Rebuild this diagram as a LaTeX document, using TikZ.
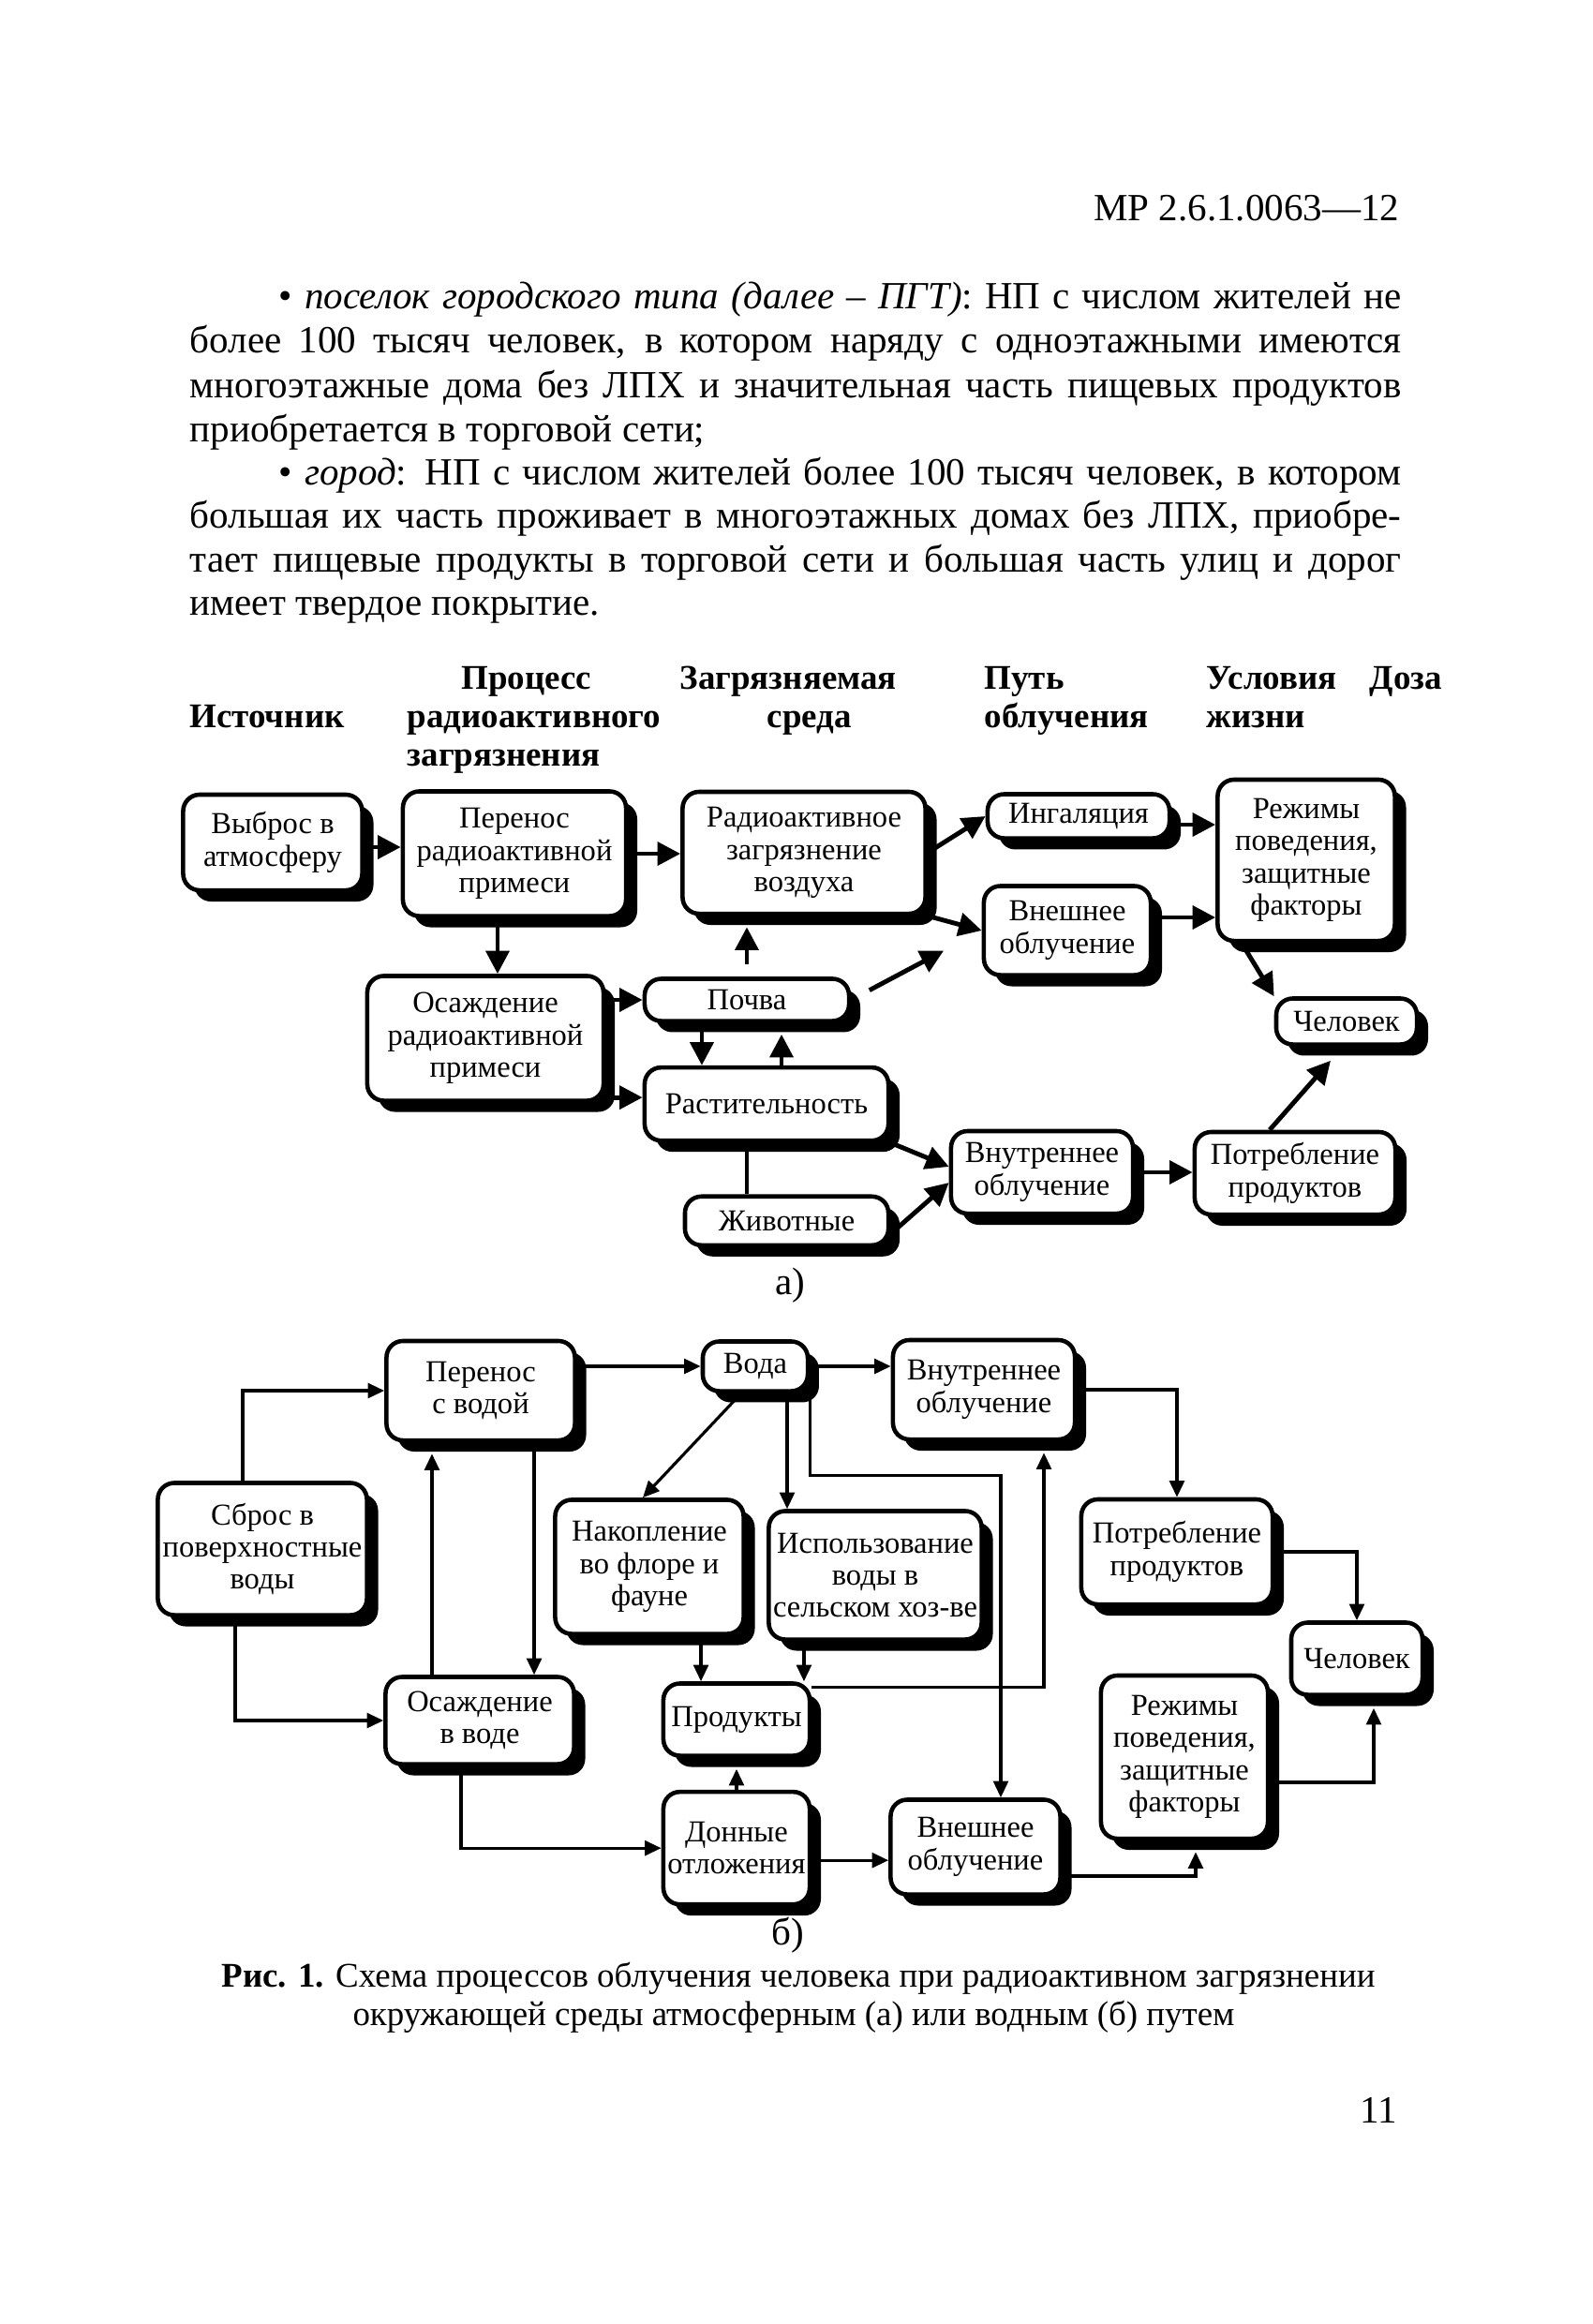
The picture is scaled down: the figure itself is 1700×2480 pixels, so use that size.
\documentclass[tikz,border=0pt]{standalone}
\usepackage{fontspec}
\setmainfont{Liberation Serif}
\usetikzlibrary{arrows.meta,positioning,shadows}

\begin{document}
\begin{tikzpicture}[x=0.01cm, y=-0.01cm,
box/.style={draw, line width=1.3pt, rounded corners=5pt, align=center, fill=white, inner sep=0pt,
  font=\fontsize{9.25}{9.8}\selectfont,
  drop shadow={shadow xshift=3.4pt, shadow yshift=-3.4pt, opacity=1, fill=black}},
arra/.style={-{Triangle[length=7pt,width=7pt]}, line width=1.4pt},
arrb/.style={-{Triangle[length=5pt,width=4.5pt]}, line width=0.9pt},
para/.style={anchor=base west, inner sep=0pt, font=\fontsize{11.67}{13.3}\selectfont},
head/.style={anchor=base west, inner sep=0pt, font=\fontsize{10.5}{11.7}\selectfont\bfseries}
]
\path[fill=white] (0,0) rectangle (1700,2480);
\useasboundingbox (0,0) rectangle (1700,2480);

% page text
\node[para, anchor=base east] (code) at (1494,235) {МР 2.6.1.0063—12};
\node[para] (l1) at (297,329) {\makebox[11.97cm][s]{• \textit{поселок городского типа (далее – ПГТ)}: НП с числом жителей не}};
\node[para] (l2) at (202,376) {\makebox[12.92cm][s]{более 100 тысяч человек, в котором наряду с одноэтажными имеются}};
\node[para] (l3) at (202,424) {\makebox[12.92cm][s]{многоэтажные дома без ЛПХ и значительная часть пищевых продуктов}};
\node[para] (l4) at (202,471) {приобретается в торговой сети;};
\node[para] (l5) at (297,517) {\makebox[11.97cm][s]{• \textit{город}: НП с числом жителей более 100 тысяч человек, в котором}};
\node[para] (l6) at (202,563) {\makebox[12.92cm][s]{большая их часть проживает в многоэтажных домах без ЛПХ, приобре-}};
\node[para] (l7) at (202,610) {\makebox[12.92cm][s]{тает пищевые продукты в торговой сети и большая часть улиц и дорог}};
\node[para] (l8) at (202,656) {имеет твердое покрытие.};

% column heads
\node[head] (h1) at (492,735) {Процесс};
\node[head] (h2) at (725,735) {Загрязняемая};
\node[head] (h3) at (1050,735) {Путь};
\node[head] (h4) at (1287,735) {Условия};
\node[head] (h5) at (1461,735) {Доза};
\node[head] (h6) at (202,776) {Источник};
\node[head] (h7) at (434,776) {радиоактивного};
\node[head] (h8) at (818,776) {среда};
\node[head] (h9) at (1050,776) {облучения};
\node[head] (h10) at (1287,776) {жизни};
\node[head] (h11) at (434,817) {загрязнения};

% scheme (a)
\node[box, minimum width=1.91cm, minimum height=1.02cm] (vybros) at (291,899) {Выброс в\\атмосферу};
\node[box, minimum width=2.38cm, minimum height=1.33cm] (perenos) at (549,911) {Перенос\\радиоактивной\\примеси};
\node[box, minimum width=2.59cm, minimum height=1.30cm] (vozduh) at (858,910) {Радиоактивное\\загрязнение\\воздуха};
\node[box, minimum width=1.94cm, minimum height=0.47cm] (ingal) at (1151,871) {Ингаляция};
\node[box, minimum width=1.89cm, minimum height=1.72cm] (rezhimA) at (1394,918) {Режимы\\поведения,\\защитные\\факторы};
\node[box, minimum width=1.78cm, minimum height=0.95cm] (vneshA) at (1139,993) {Внешнее\\облучение};
\node[box, minimum width=2.52cm, minimum height=1.33cm] (osazhA) at (518,1108) {Осаждение\\радиоактивной\\примеси};
\node[box, minimum width=2.18cm, minimum height=0.45cm] (pochva) at (797,1067) {Почва};
\node[box, minimum width=2.60cm, minimum height=0.78cm, below=0.45cm of pochva.south west, anchor=north west] (rast) {Растительность};
\node[box, minimum width=2.17cm, minimum height=0.52cm, below=0.55cm of rast.south east, anchor=north east] (zhiv) {Животные};
\node[box, minimum width=1.94cm, minimum height=0.88cm] (vnutrA) at (1112,1251) {Внутреннее\\облучение};
\node[box, minimum width=2.14cm, minimum height=0.88cm] (potrA) at (1382,1252) {Потребление\\продуктов};
\node[box, minimum width=1.50cm, minimum height=0.49cm] (chelA) at (1437,1090) {Человек};

\draw[arra] ([yshift=-0.05cm]vybros.east) coordinate (p0) -- (p0 -| perenos.west);
\draw[arra] (perenos.east) -- (perenos.east -| vozduh.west);
\draw[arra] ([xshift=-0.18cm]perenos.south) coordinate (p1) -- (p1 |- osazhA.north);
\draw[arra] (vozduh.east) -- (ingal.west);
\draw[arra] (vozduh.south east) -- (vneshA.west);
\draw[arra, shorten <=0.22cm, shorten >=0.46cm] (pochva.east) -- (vneshA.west);
\draw[arra, shorten <=0.13cm, shorten >=0.12cm] (pochva.north) -- (pochva.north |- vozduh.south);
\draw[arra] ([xshift=-0.48cm]pochva.south) coordinate (p2) -- (p2 |- rast.north);
\path ([xshift=0.37cm]pochva.south) coordinate (p3);
\draw[arra, shorten >=0.12cm] (p3 |- rast.north) -- (p3);
\draw[arra] (osazhA.east |- pochva.west) -- (pochva.west);
\draw[arra] ([yshift=0.07cm]osazhA.east |- rast.west) coordinate (p7) -- (p7 -| rast.west);
\draw[line width=1.4pt] ([xshift=-0.21cm]rast.south) coordinate (p4) -- (p4 |- zhiv.north);
\draw[arra] (rast.south east) -- ([yshift=0.06cm]vnutrA.west);
\draw[arra] ([yshift=-0.14cm]zhiv.east) -- ([yshift=-0.11cm]vnutrA.west);
\draw[arra] ([yshift=-0.09cm]ingal.east) coordinate (p5) -- (p5 -| rezhimA.west);
\draw[arra] ([yshift=0.14cm]vneshA.east) coordinate (p6) -- (p6 -| rezhimA.west);
\draw[arra, shorten <=0.1cm] (rezhimA.232) -- (chelA.north west);
\draw[arra] ([xshift=-0.27cm]potrA.north) -- ([xshift=-0.17cm, yshift=-0.15cm]chelA.south);
\draw[arra] (vnutrA.east) -- (vnutrA.east -| potrA.west);

\node[para, anchor=base] (la) at (843,1381) {а)};

% scheme (b)
\node[box, minimum width=2.01cm, minimum height=1.06cm] (perenosB) at (513,1484) {Перенос\\с водой};
\node[box, minimum width=2.23cm, minimum height=1.41cm] (sbros) at (280,1653) {Сброс в\\поверхностные\\воды};
\node[box, minimum width=2.01cm, minimum height=0.93cm] (osazhB) at (512,1836) {Осаждение\\в воде};
\node[box, minimum width=1.12cm, minimum height=0.53cm] (voda) at (806,1458) {Вода};
\node[box, minimum width=2.01cm, minimum height=1.43cm] (nakop) at (693,1672) {Накопление\\во флоре и\\фауне};
\node[box, minimum width=2.27cm, minimum height=1.37cm] (ispolz) at (934,1681) {Использование\\воды в\\сельском хоз-ве};
\node[box, minimum width=1.56cm, minimum height=0.77cm] (prod) at (786,1835) {Продукты};
\node[box, minimum width=1.56cm, minimum height=1.20cm, below=0.34cm of prod] (donn) {Донные\\отложения};
\node[box, minimum width=1.94cm, minimum height=1.06cm] (vnutrB) at (1050,1483) {Внутреннее\\облучение};
\node[box, minimum width=2.04cm, minimum height=1.12cm] (potrB) at (1256,1656) {Потребление\\продуктов};
\node[box, minimum width=1.40cm, minimum height=0.77cm] (chelB) at (1448,1770) {Человек};
\node[box, minimum width=1.78cm, minimum height=1.74cm] (rezhimB) at (1264,1875) {Режимы\\поведения,\\защитные\\факторы};
\node[box, minimum width=1.81cm, minimum height=1.01cm] (vneshB) at (1041,1971) {Внешнее\\облучение};

\draw[arrb] ([xshift=-0.21cm]sbros.north) |- (perenosB.west);
\draw[arrb] ([xshift=-0.29cm]sbros.south) |- (osazhB.west);
\draw[arrb, shorten >=0.12cm] ([xshift=-0.51cm]osazhB.north) coordinate (q1) -- (q1 |- perenosB.south);
\draw[arrb] ([xshift=0.57cm]perenosB.south) coordinate (q2) -- (q2 |- osazhB.north);
\draw[arrb] (perenosB.east |- voda.west) -- (voda.west);
\draw[arrb] ([xshift=-0.15cm]voda.south) -- ([xshift=-0.07cm]nakop.north);
\draw[arrb] ([xshift=0.34cm]voda.south) coordinate (q3) -- (q3 |- ispolz.north);
\draw[arrb] (voda.south east) -- ++(0,88) -| ([xshift=0.27cm]vneshB.north);
\draw[arrb] (voda.east) -- (voda.east -| vnutrB.west);
\draw[arrb] ([xshift=0.55cm]nakop.south) coordinate (q4) -- (q4 |- prod.north);
\draw[arrb] ([xshift=-0.76cm]ispolz.south) coordinate (q5) -- (q5 |- prod.north);
\draw[arrb, shorten >=0.12cm] ([yshift=-0.06cm]prod.north east) -| ([xshift=0.64cm]vnutrB.south);
\draw[arrb, shorten >=0.12cm] (donn.north) -- (donn.north |- prod.south);
\draw[arrb] ([xshift=-0.2cm]osazhB.south) |- (donn.west);
\draw[arrb] ([yshift=-0.13cm]donn.east) coordinate (q6) -- (q6 -| vneshB.west);
\draw[arrb] (vnutrB.east) -| (potrB.north);
\draw[arrb] (potrB.east) -| (chelB.north);
\draw[arrb, shorten >=0.12cm] ([yshift=-0.31cm]vneshB.east) -| ([xshift=0.12cm]rezhimB.south);
\draw[arrb, shorten >=0.12cm] ([yshift=-0.27cm]rezhimB.east) -| ([xshift=0.18cm]chelB.south);

\node[para, anchor=base] (lb) at (841,2075) {б)};

% caption
\node[para, anchor=base, font=\fontsize{10.5}{12}\selectfont] (cap1) at (852,2120) {\textbf{Рис. 1.} Схема процессов облучения человека при радиоактивном загрязнении};
\node[para, anchor=base, font=\fontsize{10.5}{12}\selectfont] (cap2) at (847,2161) {окружающей среды атмосферным (а) или водным (б) путем};
\node[para, anchor=base east] (pnum) at (1492,2265) {11};
\end{tikzpicture}
\end{document}
